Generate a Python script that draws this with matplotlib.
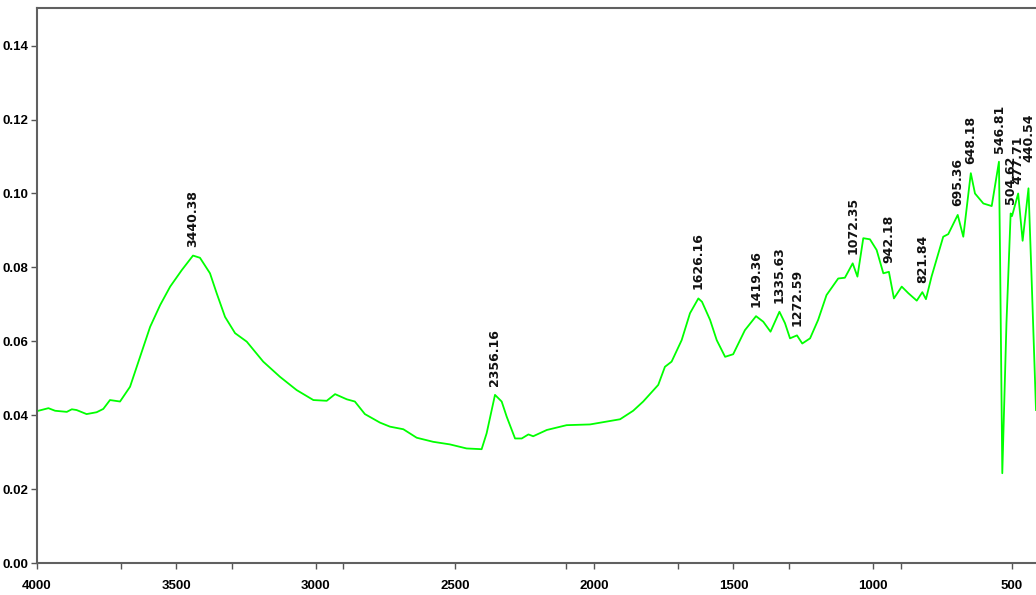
import matplotlib
matplotlib.use("Agg")
import matplotlib.pyplot as plt
from matplotlib.ticker import FixedLocator, FormatStrFormatter

# spectrum (wavenumber cm-1, absorbance)
wavenumber = [4000, 3959, 3935, 3893, 3875, 3858, 3822, 3786, 3762, 3738, 3702, 3666,
              3630, 3594, 3558, 3522, 3480, 3440, 3415, 3379, 3355, 3325, 3289, 3247,
              3188, 3128, 3068, 3008, 2960, 2930, 2888, 2859, 2823, 2769, 2733, 2685,
              2637, 2578, 2518, 2458, 2404, 2386, 2356, 2332, 2314, 2284, 2260, 2236,
              2219, 2170, 2099, 2015, 1907, 1860, 1824, 1770, 1746, 1722, 1686, 1656,
              1626, 1613, 1584, 1560, 1530, 1501, 1459, 1419, 1393, 1367, 1335, 1315,
              1297, 1272, 1253, 1225, 1196, 1166, 1124, 1100, 1072, 1055, 1034, 1010,
              986, 962, 942, 924, 896, 872, 842, 822, 809, 789, 747, 729,
              695, 675, 648, 633, 603, 573, 547, 543, 535, 520, 505, 500,
              478, 462, 441, 430, 414]
absorbance = [0.0411, 0.0419, 0.0412, 0.0409, 0.0416, 0.0414, 0.0403, 0.0408, 0.0417, 0.0441, 0.0437, 0.0477,
              0.0558, 0.0639, 0.0698, 0.0748, 0.0793, 0.0832, 0.0826, 0.0784, 0.0730, 0.0666, 0.0622, 0.0599,
              0.0545, 0.0504, 0.0468, 0.0441, 0.0439, 0.0457, 0.0443, 0.0437, 0.0403, 0.0380, 0.0369, 0.0362,
              0.0339, 0.0328, 0.0321, 0.0310, 0.0308, 0.0351, 0.0455, 0.0437, 0.0396, 0.0337, 0.0337, 0.0348,
              0.0343, 0.0360, 0.0373, 0.0375, 0.0389, 0.0412, 0.0437, 0.0482, 0.0531, 0.0545, 0.0603, 0.0676,
              0.0716, 0.0707, 0.0658, 0.0603, 0.0558, 0.0565, 0.0630, 0.0668, 0.0653, 0.0626, 0.0680, 0.0649,
              0.0608, 0.0616, 0.0594, 0.0608, 0.0658, 0.0725, 0.0770, 0.0772, 0.0811, 0.0775, 0.0879, 0.0876,
              0.0847, 0.0784, 0.0788, 0.0716, 0.0748, 0.0730, 0.0710, 0.0733, 0.0714, 0.0775, 0.0883, 0.0890,
              0.0942, 0.0883, 0.1055, 0.1000, 0.0973, 0.0966, 0.1086, 0.0830, 0.0243, 0.0650, 0.0946, 0.0939,
              0.1000, 0.0872, 0.1014, 0.0775, 0.0414]

# peak labels: text, position, absorbance at which the label sits
peak_text = ["3440.38", "2356.16", "1626.16", "1419.36", "1335.63", "1272.59", "1072.35",
             "942.18", "821.84", "695.36", "648.18", "546.81", "504.62", "477.71", "440.54"]
peak_x = [3440.38, 2356.16, 1626.16, 1419.36, 1335.63, 1272.59, 1072.35,
          942.18, 821.84, 695.36, 648.18, 546.81, 504.62, 477.71, 440.54]
peak_y = [0.0832, 0.0455, 0.0716, 0.0668, 0.0680, 0.0616, 0.0811,
          0.0788, 0.0733, 0.0942, 0.1055, 0.1086, 0.0946, 0.1000, 0.1060]

x_major = [4000, 3500, 3000, 2500, 2000, 1500, 1000, 500]
x_minor = [3700, 3300, 2900, 2100, 1700, 1300, 900]
y_major = [0.00, 0.02, 0.04, 0.06, 0.08, 0.10, 0.12, 0.14]

fig = plt.figure(figsize=(10.36, 5.95), dpi=100)
ax = fig.add_axes([37 / 1036, 1 - 563 / 595, 1 - 37 / 1036, (563 - 8) / 595])

ax.plot(wavenumber, absorbance, color="#00ff00", lw=1.3)
ax.set_xlim(4000, 414)
ax.set_ylim(0, 0.1502)

for t, x, y in zip(peak_text, peak_x, peak_y):
    ax.annotate(t, (x, y), xytext=(0, 6.5), textcoords="offset points",
                rotation=90, ha="center", va="bottom", fontsize=9,
                fontweight="bold", color="#111111")

tick_font = ["Liberation Sans", "DejaVu Sans"]
ax.xaxis.set_major_locator(FixedLocator(x_major))
ax.xaxis.set_minor_locator(FixedLocator(x_minor))
ax.yaxis.set_major_locator(FixedLocator(y_major))
ax.yaxis.set_major_formatter(FormatStrFormatter("%.2f"))
ax.tick_params(axis="both", which="both", direction="out", length=4, width=1,
               color="#555555")
ax.tick_params(axis="x", pad=8)
ax.tick_params(axis="y", pad=2)
for lab in ax.get_xticklabels() + ax.get_yticklabels():
    lab.set_family(tick_font)
    lab.set_fontweight("bold")
    lab.set_fontsize(9.5)

for side in ["left", "bottom", "top"]:
    ax.spines[side].set_color("#606060")
    ax.spines[side].set_linewidth(1.5)
ax.spines["right"].set_visible(False)

fig.savefig("out.png", dpi=100)
